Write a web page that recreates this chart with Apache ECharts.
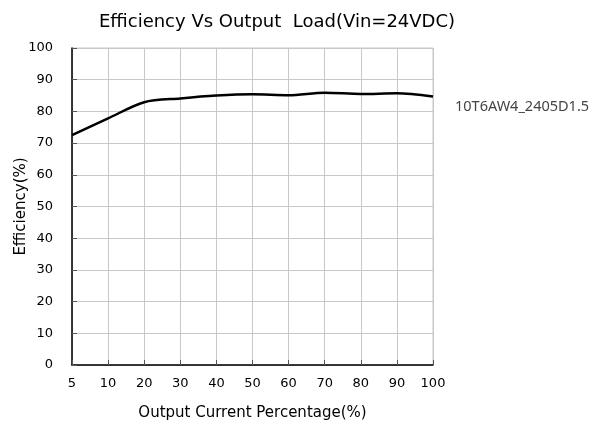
<!DOCTYPE html>
<html><head><meta charset="utf-8">
<script src="https://cdn.jsdelivr.net/npm/echarts@6/dist/echarts.min.js"></script>
<style>html,body{margin:0;padding:0;background:#fff}#c{width:594px;height:421px}</style>
</head><body><div id="c"></div>
<script>
const categories = ['5','10','20','30','40','50','60','70','80','90','100'];
const efficiency = [72.5, 77.8, 82.9, 84.1, 85.0, 85.4, 85.1, 85.9, 85.5, 85.7, 84.7];
const seriesName = '10T6AW4_2405D1.5';
const chart = echarts.init(document.getElementById('c'));
chart.setOption({
  backgroundColor: '#fff',
  animation: false,
  title: {
    text: 'Efficiency Vs Output  Load(Vin=24VDC)',
    left: 272, top: 8, textAlign: 'center',
    textStyle: {fontFamily: 'DejaVu Sans', fontSize: 18, fontWeight: 'normal', color: '#000'}
  },
  legend: {
    data: [seriesName], icon: 'none', left: 445, top: 94,
    itemWidth: 0, itemGap: 0,
    textStyle: {fontFamily: 'Noto Sans', fontSize: 14.5, color: '#444'}
  },
  grid: {left: 72, right: 161, top: 48, bottom: 56, show: true, borderColor: '#c8c8c8', borderWidth: 1,
         containLabel: false, outerBoundsMode: 'none'},
  xAxis: {
    type: 'category', data: categories, boundaryGap: false,
    name: 'Output Current Percentage(%)', nameLocation: 'middle', nameGap: 41,
    nameTextStyle: {fontFamily: 'DejaVu Sans', fontSize: 15, color: '#000'},
    axisLine: {lineStyle: {color: '#000', width: 1.5}},
    axisTick: {show: true, inside: true, length: 5, lineStyle: {color: '#555'}},
    axisLabel: {fontFamily: 'DejaVu Sans', fontSize: 13, color: '#000', margin: 12},
    splitLine: {show: true, lineStyle: {color: '#c8c8c8', width: 1}}
  },
  yAxis: {
    type: 'value', min: 0, max: 100, interval: 10,
    name: 'Efficiency(%)', nameLocation: 'middle', nameGap: 43, nameMoveOverlap: false,
    nameTextStyle: {fontFamily: 'DejaVu Sans', fontSize: 15, color: '#000'},
    axisLine: {show: true, lineStyle: {color: '#000', width: 1.5}},
    axisTick: {show: true, inside: true, length: 5, lineStyle: {color: '#555'}},
    axisLabel: {fontFamily: 'DejaVu Sans', fontSize: 13, color: '#000', margin: 19},
    splitLine: {show: true, lineStyle: {color: '#c8c8c8', width: 1}}
  },
  series: [{
    name: seriesName, type: 'line', data: efficiency, smooth: 0.3,
    showSymbol: false, lineStyle: {color: '#000', width: 2.5}, itemStyle: {color: '#000'}
  }]
});
</script></body></html>
